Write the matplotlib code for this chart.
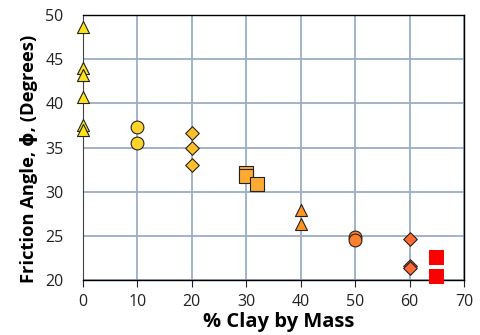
import matplotlib
matplotlib.use("Agg")
import matplotlib.pyplot as plt

plt.rcParams['font.family'] = ['Open Sans', 'DejaVu Sans']

# clay % and friction angle (deg), one group per marker style
tri_y_x = [0, 0, 0, 0, 0, 0]
tri_y_v = [48.6, 44.0, 43.2, 40.7, 37.5, 37.0]
circ_y_x = [10, 10]
circ_y_v = [37.3, 35.5]
dia_o_x = [20, 20, 20]
dia_o_v = [36.6, 34.9, 33.0]
sq_o_x = [30, 30, 32]
sq_o_v = [32.1, 31.8, 30.9]
tri_o_x = [40, 40]
tri_o_v = [27.9, 26.3]
circ_o_x = [50, 50]
circ_o_v = [24.9, 24.5]
dia_r_x = [60, 60, 60]
dia_r_v = [24.7, 21.6, 21.4]
sq_r_x = [65, 65]
sq_r_v = [22.6, 20.4]

fig = plt.figure(figsize=(4.81, 3.35), dpi=100)
ax = fig.add_axes([0.1726, 0.164, 0.792, 0.791])

ax.set_xlim(0, 70)
ax.set_ylim(20, 50)
ax.set_xticks(range(0, 71, 10))
ax.set_yticks(range(20, 51, 5))
ax.grid(True, color='#9aaec6', linewidth=1.3)
ax.set_axisbelow(True)

ax.scatter(tri_y_x, tri_y_v, marker='^', s=75, c='#ffe11a', edgecolors='#222222', linewidths=0.8, zorder=3, clip_on=False)
ax.scatter(circ_y_x, circ_y_v, marker='o', s=85, c='#ffd42a', edgecolors='#222222', linewidths=0.8, zorder=3, clip_on=False)
ax.scatter(dia_o_x, dia_o_v, marker='D', s=48, c='#ffbf2a', edgecolors='#222222', linewidths=0.8, zorder=3, clip_on=False)
ax.scatter(sq_o_x, sq_o_v, marker='s', s=95, c='#ffaa33', edgecolors='#222222', linewidths=0.8, zorder=3, clip_on=False)
ax.scatter(tri_o_x, tri_o_v, marker='^', s=75, c='#ff9422', edgecolors='#222222', linewidths=0.8, zorder=3, clip_on=False)
ax.scatter(circ_o_x, circ_o_v, marker='o', s=85, c='#ff7f2a', edgecolors='#222222', linewidths=0.8, zorder=3, clip_on=False)
ax.scatter(dia_r_x, dia_r_v, marker='D', s=48, c='#ff6a33', edgecolors='#222222', linewidths=0.8, zorder=3, clip_on=False)
ax.scatter(sq_r_x, sq_r_v, marker='s', s=115, c='#ff0000', edgecolors='none', zorder=3, clip_on=False)

for side in ['top', 'right', 'bottom']:
    ax.spines[side].set_color('black')
    ax.spines[side].set_linewidth(1.0)
ax.spines['left'].set_color('#444444')

ax.tick_params(axis='both', labelsize=11.5, colors='#222222')
ax.tick_params(axis='x', direction='out', length=5, pad=5)
ax.tick_params(axis='y', direction='out', length=0, pad=14)

ax.set_xlabel('% Clay by Mass', fontsize=14.5, fontweight='bold')
ax.xaxis.set_label_coords(0.513, -0.122)
ax.xaxis.label.set_va('top')
ax.set_ylabel('Friction Angle, ϕ, (Degrees)', fontsize=13.2, fontweight='bold')
ax.yaxis.set_label_coords(-0.119, 0.457)

fig.savefig('out.png', dpi=100)
